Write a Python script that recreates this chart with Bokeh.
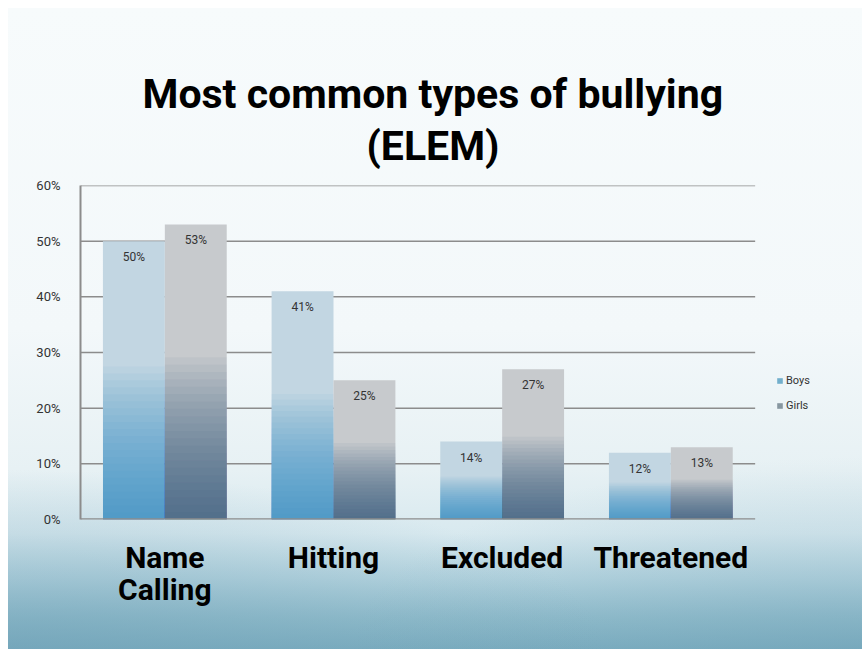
from bokeh.plotting import figure
from bokeh.models import (ColumnDataSource, Range1d, PrintfTickFormatter,
                          Title, Legend, LegendItem, FixedTicker, LinearAxis)
from bokeh.core.properties import value
from bokeh.embed import file_html
from bokeh.resources import INLINE

categories = ["Name Calling", "Hitting", "Excluded", "Threatened"]
label_line1 = ["Name", "Hitting", "Excluded", "Threatened"]
label_line2 = ["Calling", " ", " ", " "]
boys = [50, 41, 14, 12]
girls = [53, 25, 27, 13]
series = ["Boys", "Girls"]
y_ticks = [0, 10, 20, 30, 40, 50, 60]

FONT = "Roboto"

BW = 0.367
OFF = 0.1835
NCAT = len(categories)
centers = [i + 0.5 for i in range(NCAT)]

src = ColumnDataSource(dict(
    xb=[c - OFF for c in centers],
    xg=[c + OFF for c in centers],
    boys=boys,
    girls=girls,
    boys_lbl=[f"{v}%" for v in boys],
    girls_lbl=[f"{v}%" for v in girls],
))

# frame extends right to leave room for the legend; gridlines stop at the last category
p = figure(x_range=Range1d(0, NCAT + 0.5),
           y_range=Range1d(0, 60),
           width=854, height=641,
           output_backend="svg", toolbar_location=None,
           min_border_left=72, min_border_right=23,
           min_border_top=177, min_border_bottom=130)

p.border_fill_color = None
p.background_fill_color = None
p.outline_line_color = None
p.styles = {
    "margin-left": "8px",
    "margin-top": "8px",
    "background": "radial-gradient(ellipse 70% 28% at 0% 100%, rgba(110,160,182,0.5) 0%, rgba(110,160,182,0) 100%), "
                  "radial-gradient(ellipse 60% 30% at 100% 100%, rgba(110,160,182,0.35) 0%, rgba(110,160,182,0) 100%), "
                  "linear-gradient(to bottom, #f7fbfc 0%, #f3f8fa 50%, #e7f1f4 72%, "
                  "#d8e9ef 82%, #b5d4df 89%, #92bdcc 95%, #7cadc0 100%)",
}

# gridlines (only across the category area)
p.segment(x0=[0] * len(y_ticks[1:]), x1=[NCAT] * len(y_ticks[1:]),
          y0=y_ticks[1:], y1=y_ticks[1:], line_color="#8c8c8c", line_width=1.5)

# light bars
p.vbar(x="xb", top="boys", width=BW, source=src, fill_color="#c2d6e2", line_color=None)
p.vbar(x="xg", top="girls", width=BW, source=src, fill_color="#c7cacd", line_color=None)

# gradient shading layers derived from the values
N = 22
for k in range(1, N + 1):
    frac = 0.55 * k / N
    s = ColumnDataSource(dict(xb=src.data["xb"], xg=src.data["xg"],
                              b=[v * frac for v in boys],
                              g=[v * frac for v in girls]))
    p.vbar(x="xb", top="b", width=BW, source=s,
           fill_color="#2a93bd", fill_alpha=0.05, line_color=None)
    p.vbar(x="xg", top="g", width=BW, source=s,
           fill_color="#22566c", fill_alpha=0.05, line_color=None)

# baseline (x axis line) across the category area
p.segment(x0=[0], x1=[NCAT], y0=[y_ticks[0]], y1=[y_ticks[0]],
          line_color="#8c8c8c", line_width=2.5)

# value labels
p.text(x="xb", y="boys", text="boys_lbl", source=src,
       text_align="center", text_baseline="middle", y_offset=16,
       text_font=value(FONT), text_font_size="12px", text_color="#333333")
p.text(x="xg", y="girls", text="girls_lbl", source=src,
       text_align="center", text_baseline="middle", y_offset=16,
       text_font=value(FONT), text_font_size="12px", text_color="#333333")

# legend proxies (zero-height bars, only used for the legend swatches)
lb = p.vbar(x=[centers[0]], top=[0], width=BW, fill_color="#72afcc", line_color=None)
lg = p.vbar(x=[centers[0]], top=[0], width=BW, fill_color="#8797a0", line_color=None)
legend = Legend(items=[LegendItem(label=series[0], renderers=[lb]),
                       LegendItem(label=series[1], renderers=[lg])],
                location=(696, 107), padding=3, margin=0, spacing=12,
                glyph_width=7, glyph_height=7, label_standoff=3,
                label_text_font=FONT, label_text_font_size="11px",
                label_text_color="#333333",
                background_fill_alpha=0, border_line_color=None)
p.add_layout(legend, "center")

# titles (added nearest-first)
p.add_layout(Title(text="(ELEM)", align="left", text_font=FONT, offset=286,
                   text_font_size="41px", text_font_style="bold", text_color="#000000",
                   standoff=31), "above")
p.add_layout(Title(text="Most common types of bullying", align="left", text_font=FONT,
                   offset=62, text_font_size="41px", text_font_style="bold",
                   text_color="#000000", standoff=-26), "above")

# axes
p.yaxis.ticker = FixedTicker(ticks=y_ticks)
p.yaxis.formatter = PrintfTickFormatter(format="%d%%")
p.yaxis.axis_line_color = "#8c8c8c"
p.yaxis.axis_line_width = 2
p.yaxis.major_tick_line_color = None
p.yaxis.minor_tick_line_color = None
p.yaxis.major_label_standoff = 14
p.yaxis.major_label_text_font = FONT
p.yaxis.major_label_text_font_size = "13px"
p.yaxis.major_label_text_color = "#333333"

p.xaxis.ticker = FixedTicker(ticks=centers)
p.xaxis.axis_line_color = None
p.xaxis.major_tick_line_color = None
p.xaxis.minor_tick_line_color = None
p.xaxis.major_label_overrides = dict(zip(centers, label_line1))
p.xaxis.major_label_standoff = 14
p.xaxis.major_label_text_font = FONT
p.xaxis.major_label_text_font_size = "30px"
p.xaxis.major_label_text_font_style = "bold"
p.xaxis.major_label_text_color = "#000000"

ax2 = LinearAxis(ticker=FixedTicker(ticks=centers),
                 axis_line_color=None, major_tick_line_color=None,
                 minor_tick_line_color=None, major_label_standoff=-12,
                 major_label_text_font=FONT, major_label_text_font_size="30px",
                 major_label_text_font_style="bold", major_label_text_color="#000000",
                 major_label_overrides=dict(zip(centers, label_line2)))
p.add_layout(ax2, "below")

p.xgrid.grid_line_color = None
p.ygrid.grid_line_color = None

open("out.html", "w").write(file_html(p, INLINE))
